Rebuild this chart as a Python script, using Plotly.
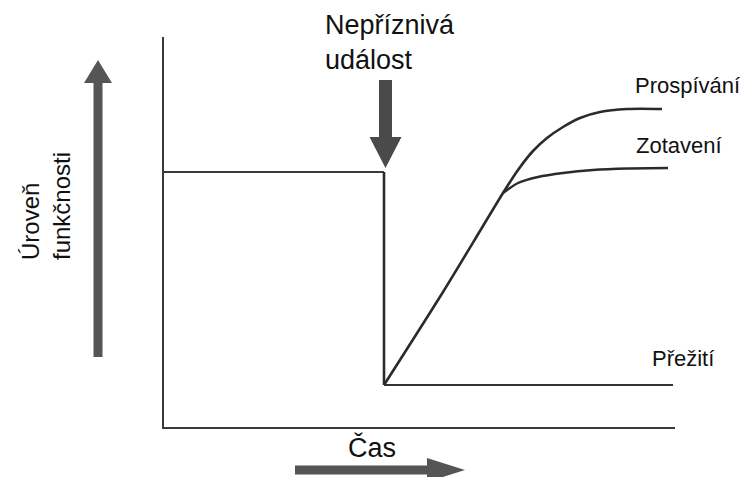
import plotly.graph_objects as go

# Conceptual diagram data (time units, level units)
baseline_t = [0, 221]
baseline_level = [256, 256]
drop_t = [221, 221]
drop_level = [256, 43]
survival_t = [221, 510]
survival_level = [43, 43]
# recovery rising line continuing into the "thriving" curve
thrive_t = [221, 280, 320, 340, 355, 370, 384, 400, 417, 437, 464, 499]
thrive_level = [43, 136, 202, 235, 258, 277, 290, 301, 310, 316, 319, 319]
# "recovery" branch
recover_t = [340, 355, 375, 400, 430, 465, 505]
recover_level = [235, 245, 251, 255, 258, 259.5, 260]
axis_t = [0, 0, 512]
axis_level = [391, 0, 0]

labels = ["Prospívání", "Zotavení", "Přežití"]
label_t = [470, 471, 487]
label_level = [343, 283, 70]

LINE = "#2b2b2b"
ARROW = "#555555"
FONT = "Liberation Sans, Arial, sans-serif"

fig = go.Figure()

def line(t, lv, w=2.2, color=LINE, shape="linear"):
    fig.add_trace(go.Scatter(x=t, y=lv, mode="lines",
                             line=dict(color=color, width=w, shape=shape, smoothing=0.8),
                             hoverinfo="skip", showlegend=False))

line(axis_t, axis_level, w=2, color="#3a3a3a")
line(baseline_t, baseline_level, w=2, color="#3a3a3a")
line(drop_t, drop_level, w=2.6)
line(survival_t, survival_level, w=2.2, color="#333333")
line(thrive_t, thrive_level, w=2.6, shape="spline")
line(recover_t, recover_level, w=2.4, shape="spline")

def arrow_path(pts):
    return "M " + " L ".join(f"{a},{b}" for a, b in pts) + " Z"

# vertical (level) arrow
cx, y0, yb, yt, sw, hw = -65, 71, 345, 368, 4.5, 14
fig.add_shape(type="path", xref="x", yref="y", line=dict(width=0), fillcolor=ARROW,
              path=arrow_path([(cx - sw, y0), (cx + sw, y0), (cx + sw, yb), (cx + hw, yb),
                               (cx, yt), (cx - hw, yb), (cx - sw, yb)]))
# event arrow (down)
cx, y0, yb, yt, sw, hw = 222.5, 348, 291, 260, 6.5, 16
fig.add_shape(type="path", xref="x", yref="y", line=dict(width=0), fillcolor="#4a4a4a",
              path=arrow_path([(cx - sw, y0), (cx + sw, y0), (cx + sw, yb), (cx + hw, yb),
                               (cx, yt), (cx - hw, yb), (cx - sw, yb)]))
# time arrow (right)
cy, x0, xb, xt, sw, hw = -42, 132, 264, 302, 4.5, 12
fig.add_shape(type="path", xref="x", yref="y", line=dict(width=0), fillcolor=ARROW,
              path=arrow_path([(x0, cy - sw), (x0, cy + sw), (xb, cy + sw), (xb, cy + hw),
                               (xt, cy), (xb, cy - hw), (xb, cy - sw)]))

for txt, t, lv in zip(labels, label_t, label_level):
    fig.add_annotation(x=t, y=lv, text=txt, showarrow=False, xanchor="left",
                       yanchor="middle", font=dict(size=22, color="#111111", family=FONT))

fig.add_annotation(x=160, y=386, text="Nepříznivá<br>událost", showarrow=False,
                   xanchor="left", yanchor="middle", align="left",
                   font=dict(size=27, color="#111111", family=FONT))
fig.add_annotation(x=209, y=-19, text="Čas", showarrow=False, xanchor="center",
                   yanchor="middle", font=dict(size=27, color="#111111", family=FONT))
fig.add_annotation(x=-117, y=166, text="Úroveň<br>funkčnosti", showarrow=False,
                   textangle=-90, xanchor="center", yanchor="bottom", align="left",
                   font=dict(size=24, color="#111111", family=FONT))

fig.update_layout(
    width=743, height=469, margin=dict(l=0, r=0, t=0, b=0),
    paper_bgcolor="white", plot_bgcolor="white",
    xaxis=dict(range=[-155, 588], visible=False, fixedrange=True),
    yaxis=dict(range=[-49, 420], visible=False, fixedrange=True),
)
fig.write_html("out.html")
